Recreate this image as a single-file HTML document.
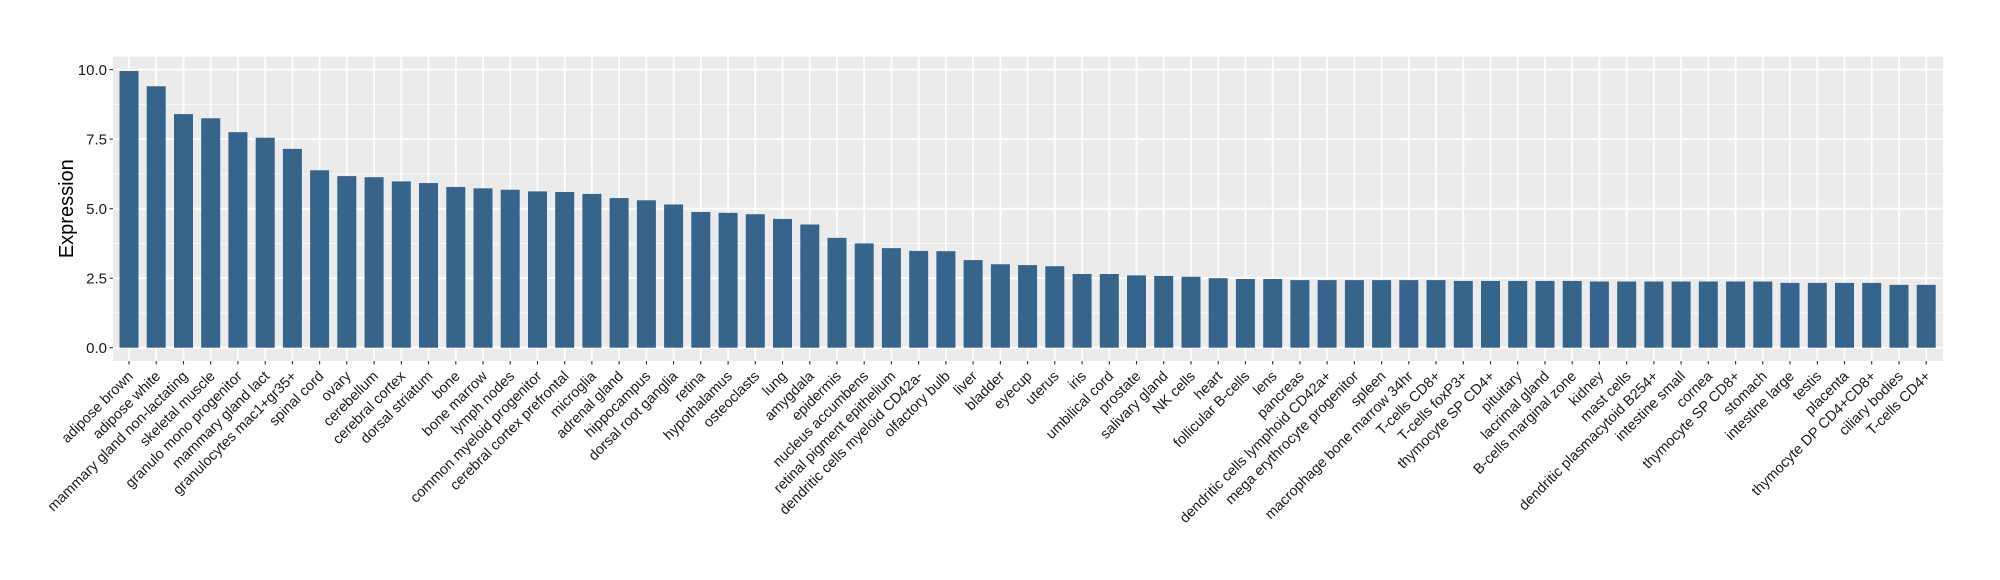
<!DOCTYPE html>
<html><head><meta charset="utf-8"><style>
html,body{margin:0;padding:0;background:#fff;}
svg{display:block;font-family:"Liberation Sans",Arial,sans-serif;}
</style></head><body>
<svg width="2000" height="580" viewBox="0 0 2000 580" xmlns="http://www.w3.org/2000/svg">
<rect x="113" y="56.7" width="1830" height="304.3" fill="#ebebeb"/>
<g stroke="#fff" stroke-width="0.8">
<line x1="113" x2="1943" y1="312.9" y2="312.9"/><line x1="113" x2="1943" y1="243.4" y2="243.4"/><line x1="113" x2="1943" y1="173.9" y2="173.9"/><line x1="113" x2="1943" y1="104.4" y2="104.4"/>
</g>
<g stroke="#fff" stroke-width="1.8">
<line x1="113" x2="1943" y1="347.7" y2="347.7"/><line x1="113" x2="1943" y1="278.2" y2="278.2"/><line x1="113" x2="1943" y1="208.7" y2="208.7"/><line x1="113" x2="1943" y1="139.1" y2="139.1"/><line x1="113" x2="1943" y1="69.6" y2="69.6"/>
</g>
<g stroke="#fff" stroke-width="1.8">
<line x1="129.0" x2="129.0" y1="56.7" y2="361"/><line x1="156.2" x2="156.2" y1="56.7" y2="361"/><line x1="183.5" x2="183.5" y1="56.7" y2="361"/><line x1="210.7" x2="210.7" y1="56.7" y2="361"/><line x1="237.9" x2="237.9" y1="56.7" y2="361"/><line x1="265.2" x2="265.2" y1="56.7" y2="361"/><line x1="292.4" x2="292.4" y1="56.7" y2="361"/><line x1="319.6" x2="319.6" y1="56.7" y2="361"/><line x1="346.8" x2="346.8" y1="56.7" y2="361"/><line x1="374.1" x2="374.1" y1="56.7" y2="361"/><line x1="401.3" x2="401.3" y1="56.7" y2="361"/><line x1="428.5" x2="428.5" y1="56.7" y2="361"/><line x1="455.8" x2="455.8" y1="56.7" y2="361"/><line x1="483.0" x2="483.0" y1="56.7" y2="361"/><line x1="510.2" x2="510.2" y1="56.7" y2="361"/><line x1="537.5" x2="537.5" y1="56.7" y2="361"/><line x1="564.7" x2="564.7" y1="56.7" y2="361"/><line x1="591.9" x2="591.9" y1="56.7" y2="361"/><line x1="619.1" x2="619.1" y1="56.7" y2="361"/><line x1="646.4" x2="646.4" y1="56.7" y2="361"/><line x1="673.6" x2="673.6" y1="56.7" y2="361"/><line x1="700.8" x2="700.8" y1="56.7" y2="361"/><line x1="728.1" x2="728.1" y1="56.7" y2="361"/><line x1="755.3" x2="755.3" y1="56.7" y2="361"/><line x1="782.5" x2="782.5" y1="56.7" y2="361"/><line x1="809.8" x2="809.8" y1="56.7" y2="361"/><line x1="837.0" x2="837.0" y1="56.7" y2="361"/><line x1="864.2" x2="864.2" y1="56.7" y2="361"/><line x1="891.4" x2="891.4" y1="56.7" y2="361"/><line x1="918.7" x2="918.7" y1="56.7" y2="361"/><line x1="945.9" x2="945.9" y1="56.7" y2="361"/><line x1="973.1" x2="973.1" y1="56.7" y2="361"/><line x1="1000.4" x2="1000.4" y1="56.7" y2="361"/><line x1="1027.6" x2="1027.6" y1="56.7" y2="361"/><line x1="1054.8" x2="1054.8" y1="56.7" y2="361"/><line x1="1082.1" x2="1082.1" y1="56.7" y2="361"/><line x1="1109.3" x2="1109.3" y1="56.7" y2="361"/><line x1="1136.5" x2="1136.5" y1="56.7" y2="361"/><line x1="1163.7" x2="1163.7" y1="56.7" y2="361"/><line x1="1191.0" x2="1191.0" y1="56.7" y2="361"/><line x1="1218.2" x2="1218.2" y1="56.7" y2="361"/><line x1="1245.4" x2="1245.4" y1="56.7" y2="361"/><line x1="1272.7" x2="1272.7" y1="56.7" y2="361"/><line x1="1299.9" x2="1299.9" y1="56.7" y2="361"/><line x1="1327.1" x2="1327.1" y1="56.7" y2="361"/><line x1="1354.4" x2="1354.4" y1="56.7" y2="361"/><line x1="1381.6" x2="1381.6" y1="56.7" y2="361"/><line x1="1408.8" x2="1408.8" y1="56.7" y2="361"/><line x1="1436.0" x2="1436.0" y1="56.7" y2="361"/><line x1="1463.3" x2="1463.3" y1="56.7" y2="361"/><line x1="1490.5" x2="1490.5" y1="56.7" y2="361"/><line x1="1517.7" x2="1517.7" y1="56.7" y2="361"/><line x1="1545.0" x2="1545.0" y1="56.7" y2="361"/><line x1="1572.2" x2="1572.2" y1="56.7" y2="361"/><line x1="1599.4" x2="1599.4" y1="56.7" y2="361"/><line x1="1626.7" x2="1626.7" y1="56.7" y2="361"/><line x1="1653.9" x2="1653.9" y1="56.7" y2="361"/><line x1="1681.1" x2="1681.1" y1="56.7" y2="361"/><line x1="1708.3" x2="1708.3" y1="56.7" y2="361"/><line x1="1735.6" x2="1735.6" y1="56.7" y2="361"/><line x1="1762.8" x2="1762.8" y1="56.7" y2="361"/><line x1="1790.0" x2="1790.0" y1="56.7" y2="361"/><line x1="1817.3" x2="1817.3" y1="56.7" y2="361"/><line x1="1844.5" x2="1844.5" y1="56.7" y2="361"/><line x1="1871.7" x2="1871.7" y1="56.7" y2="361"/><line x1="1899.0" x2="1899.0" y1="56.7" y2="361"/><line x1="1926.2" x2="1926.2" y1="56.7" y2="361"/>
</g>
<path stroke="#333" stroke-width="1.1" fill="none" d="M129.0,361v3.5M156.2,361v3.5M183.5,361v3.5M210.7,361v3.5M237.9,361v3.5M265.2,361v3.5M292.4,361v3.5M319.6,361v3.5M346.8,361v3.5M374.1,361v3.5M401.3,361v3.5M428.5,361v3.5M455.8,361v3.5M483.0,361v3.5M510.2,361v3.5M537.5,361v3.5M564.7,361v3.5M591.9,361v3.5M619.1,361v3.5M646.4,361v3.5M673.6,361v3.5M700.8,361v3.5M728.1,361v3.5M755.3,361v3.5M782.5,361v3.5M809.8,361v3.5M837.0,361v3.5M864.2,361v3.5M891.4,361v3.5M918.7,361v3.5M945.9,361v3.5M973.1,361v3.5M1000.4,361v3.5M1027.6,361v3.5M1054.8,361v3.5M1082.1,361v3.5M1109.3,361v3.5M1136.5,361v3.5M1163.7,361v3.5M1191.0,361v3.5M1218.2,361v3.5M1245.4,361v3.5M1272.7,361v3.5M1299.9,361v3.5M1327.1,361v3.5M1354.4,361v3.5M1381.6,361v3.5M1408.8,361v3.5M1436.0,361v3.5M1463.3,361v3.5M1490.5,361v3.5M1517.7,361v3.5M1545.0,361v3.5M1572.2,361v3.5M1599.4,361v3.5M1626.7,361v3.5M1653.9,361v3.5M1681.1,361v3.5M1708.3,361v3.5M1735.6,361v3.5M1762.8,361v3.5M1790.0,361v3.5M1817.3,361v3.5M1844.5,361v3.5M1871.7,361v3.5M1899.0,361v3.5M1926.2,361v3.5"/>
<g transform="translate(0,347.7) scale(1,-27.81)" fill="#36648b">
<rect x="119.5" width="19" height="9.95"/><rect x="146.7" width="19" height="9.4"/><rect x="174.0" width="19" height="8.4"/><rect x="201.2" width="19" height="8.25"/><rect x="228.4" width="19" height="7.75"/><rect x="255.7" width="19" height="7.55"/><rect x="282.9" width="19" height="7.15"/><rect x="310.1" width="19" height="6.38"/><rect x="337.3" width="19" height="6.17"/><rect x="364.6" width="19" height="6.13"/><rect x="391.8" width="19" height="5.98"/><rect x="419.0" width="19" height="5.92"/><rect x="446.3" width="19" height="5.78"/><rect x="473.5" width="19" height="5.73"/><rect x="500.7" width="19" height="5.68"/><rect x="528.0" width="19" height="5.62"/><rect x="555.2" width="19" height="5.6"/><rect x="582.4" width="19" height="5.53"/><rect x="609.6" width="19" height="5.38"/><rect x="636.9" width="19" height="5.3"/><rect x="664.1" width="19" height="5.15"/><rect x="691.3" width="19" height="4.88"/><rect x="718.6" width="19" height="4.85"/><rect x="745.8" width="19" height="4.8"/><rect x="773.0" width="19" height="4.63"/><rect x="800.3" width="19" height="4.43"/><rect x="827.5" width="19" height="3.95"/><rect x="854.7" width="19" height="3.75"/><rect x="881.9" width="19" height="3.58"/><rect x="909.2" width="19" height="3.48"/><rect x="936.4" width="19" height="3.47"/><rect x="963.6" width="19" height="3.15"/><rect x="990.9" width="19" height="3.0"/><rect x="1018.1" width="19" height="2.97"/><rect x="1045.3" width="19" height="2.93"/><rect x="1072.6" width="19" height="2.65"/><rect x="1099.8" width="19" height="2.65"/><rect x="1127.0" width="19" height="2.6"/><rect x="1154.2" width="19" height="2.58"/><rect x="1181.5" width="19" height="2.55"/><rect x="1208.7" width="19" height="2.5"/><rect x="1235.9" width="19" height="2.47"/><rect x="1263.2" width="19" height="2.47"/><rect x="1290.4" width="19" height="2.43"/><rect x="1317.6" width="19" height="2.43"/><rect x="1344.9" width="19" height="2.43"/><rect x="1372.1" width="19" height="2.43"/><rect x="1399.3" width="19" height="2.43"/><rect x="1426.5" width="19" height="2.43"/><rect x="1453.8" width="19" height="2.4"/><rect x="1481.0" width="19" height="2.4"/><rect x="1508.2" width="19" height="2.4"/><rect x="1535.5" width="19" height="2.4"/><rect x="1562.7" width="19" height="2.4"/><rect x="1589.9" width="19" height="2.38"/><rect x="1617.2" width="19" height="2.38"/><rect x="1644.4" width="19" height="2.38"/><rect x="1671.6" width="19" height="2.38"/><rect x="1698.8" width="19" height="2.38"/><rect x="1726.1" width="19" height="2.38"/><rect x="1753.3" width="19" height="2.38"/><rect x="1780.5" width="19" height="2.33"/><rect x="1807.8" width="19" height="2.33"/><rect x="1835.0" width="19" height="2.33"/><rect x="1862.2" width="19" height="2.33"/><rect x="1889.5" width="19" height="2.26"/><rect x="1916.7" width="19" height="2.26"/>
</g>
<g stroke="#333" stroke-width="1.1">
<line x1="109.5" x2="113" y1="347.7" y2="347.7"/><line x1="109.5" x2="113" y1="278.2" y2="278.2"/><line x1="109.5" x2="113" y1="208.7" y2="208.7"/><line x1="109.5" x2="113" y1="139.1" y2="139.1"/><line x1="109.5" x2="113" y1="69.6" y2="69.6"/>
</g>
<g font-size="15" fill="#1a1a1a" text-anchor="end">
<text x="107" y="353">0.0</text><text x="107" y="283.5">2.5</text><text x="107" y="214">5.0</text><text x="107" y="144.5">7.5</text><text x="107" y="75">10.0</text>
</g>
<text transform="translate(73,208.7) rotate(-90)" text-anchor="middle" font-size="20" fill="#000">Expression</text>
<g font-size="14.5" fill="#1a1a1a" text-anchor="end">
<text transform="translate(134.0,377) rotate(-45)">adipose brown</text>
<text transform="translate(161.2,377) rotate(-45)">adipose white</text>
<text transform="translate(188.5,377) rotate(-45)">mammary gland non-lactating</text>
<text transform="translate(215.7,377) rotate(-45)">skeletal muscle</text>
<text transform="translate(242.9,377) rotate(-45)">granulo mono progenitor</text>
<text transform="translate(270.2,377) rotate(-45)">mammary gland  lact</text>
<text transform="translate(297.4,377) rotate(-45)">granulocytes mac1+gr35+</text>
<text transform="translate(324.6,377) rotate(-45)">spinal cord</text>
<text transform="translate(351.8,377) rotate(-45)">ovary</text>
<text transform="translate(379.1,377) rotate(-45)">cerebellum</text>
<text transform="translate(406.3,377) rotate(-45)">cerebral cortex</text>
<text transform="translate(433.5,377) rotate(-45)">dorsal striatum</text>
<text transform="translate(460.8,377) rotate(-45)">bone</text>
<text transform="translate(488.0,377) rotate(-45)">bone marrow</text>
<text transform="translate(515.2,377) rotate(-45)">lymph nodes</text>
<text transform="translate(542.5,377) rotate(-45)">common myeloid progenitor</text>
<text transform="translate(569.7,377) rotate(-45)">cerebral cortex prefrontal</text>
<text transform="translate(596.9,377) rotate(-45)">microglia</text>
<text transform="translate(624.1,377) rotate(-45)">adrenal gland</text>
<text transform="translate(651.4,377) rotate(-45)">hippocampus</text>
<text transform="translate(678.6,377) rotate(-45)">dorsal root ganglia</text>
<text transform="translate(705.8,377) rotate(-45)">retina</text>
<text transform="translate(733.1,377) rotate(-45)">hypothalamus</text>
<text transform="translate(760.3,377) rotate(-45)">osteoclasts</text>
<text transform="translate(787.5,377) rotate(-45)">lung</text>
<text transform="translate(814.8,377) rotate(-45)">amygdala</text>
<text transform="translate(842.0,377) rotate(-45)">epidermis</text>
<text transform="translate(869.2,377) rotate(-45)">nucleus accumbens</text>
<text transform="translate(896.4,377) rotate(-45)">retinal pigment epithelium</text>
<text transform="translate(923.7,377) rotate(-45)">dendritic cells myeloid CD42a-</text>
<text transform="translate(950.9,377) rotate(-45)">olfactory bulb</text>
<text transform="translate(978.1,377) rotate(-45)">liver</text>
<text transform="translate(1005.4,377) rotate(-45)">bladder</text>
<text transform="translate(1032.6,377) rotate(-45)">eyecup</text>
<text transform="translate(1059.8,377) rotate(-45)">uterus</text>
<text transform="translate(1087.1,377) rotate(-45)">iris</text>
<text transform="translate(1114.3,377) rotate(-45)">umbilical cord</text>
<text transform="translate(1141.5,377) rotate(-45)">prostate</text>
<text transform="translate(1168.7,377) rotate(-45)">salivary gland</text>
<text transform="translate(1196.0,377) rotate(-45)">NK cells</text>
<text transform="translate(1223.2,377) rotate(-45)">heart</text>
<text transform="translate(1250.4,377) rotate(-45)">follicular B-cells</text>
<text transform="translate(1277.7,377) rotate(-45)">lens</text>
<text transform="translate(1304.9,377) rotate(-45)">pancreas</text>
<text transform="translate(1332.1,377) rotate(-45)">dendritic cells lymphoid CD42a+</text>
<text transform="translate(1359.4,377) rotate(-45)">mega erythrocyte progenitor</text>
<text transform="translate(1386.6,377) rotate(-45)">spleen</text>
<text transform="translate(1413.8,377) rotate(-45)">macrophage bone marrow 34hr</text>
<text transform="translate(1441.0,377) rotate(-45)">T-cells CD8+</text>
<text transform="translate(1468.3,377) rotate(-45)">T-cells foxP3+</text>
<text transform="translate(1495.5,377) rotate(-45)">thymocyte SP CD4+</text>
<text transform="translate(1522.7,377) rotate(-45)">pituitary</text>
<text transform="translate(1550.0,377) rotate(-45)">lacrimal gland</text>
<text transform="translate(1577.2,377) rotate(-45)">B-cells marginal zone</text>
<text transform="translate(1604.4,377) rotate(-45)">kidney</text>
<text transform="translate(1631.7,377) rotate(-45)">mast cells</text>
<text transform="translate(1658.9,377) rotate(-45)">dendritic plasmacytoid B254+</text>
<text transform="translate(1686.1,377) rotate(-45)">intestine small</text>
<text transform="translate(1713.3,377) rotate(-45)">cornea</text>
<text transform="translate(1740.6,377) rotate(-45)">thymocyte SP CD8+</text>
<text transform="translate(1767.8,377) rotate(-45)">stomach</text>
<text transform="translate(1795.0,377) rotate(-45)">intestine large</text>
<text transform="translate(1822.3,377) rotate(-45)">testis</text>
<text transform="translate(1849.5,377) rotate(-45)">placenta</text>
<text transform="translate(1876.7,377) rotate(-45)">thymocyte DP CD4+CD8+</text>
<text transform="translate(1904.0,377) rotate(-45)">ciliary bodies</text>
<text transform="translate(1931.2,377) rotate(-45)">T-cells CD4+</text>
</g>
</svg>
</body></html>
